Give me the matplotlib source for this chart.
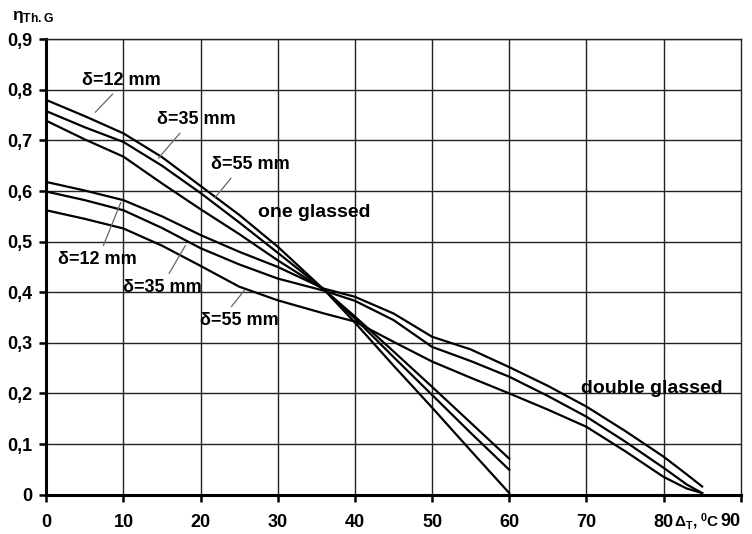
import matplotlib
matplotlib.use("Agg")
import matplotlib.pyplot as plt

plt.rcParams['font.family'] = ['Liberation Sans', 'DejaVu Sans']
plt.rcParams['font.weight'] = 'bold'
plt.rcParams['mathtext.fontset'] = 'custom'
plt.rcParams['mathtext.rm'] = 'Liberation Sans:bold'
plt.rcParams['mathtext.it'] = 'Liberation Sans:bold'
plt.rcParams['mathtext.bf'] = 'Liberation Sans:bold'

# ---------------- DATA ----------------
# one glassed collector
x_one = [0, 5, 10, 15, 20, 25, 30, 36, 40, 45, 50, 55, 60]
one_12 = [0.780, 0.748, 0.714, 0.667, 0.610, 0.553, 0.490, 0.405, 0.340, 0.255, 0.172, 0.087, 0.003]
one_35 = [0.758, 0.726, 0.697, 0.650, 0.596, 0.538, 0.478, 0.405, 0.348, 0.272, 0.197, 0.122, 0.049]
one_55 = [0.739, 0.702, 0.668, 0.615, 0.564, 0.515, 0.463, 0.405, 0.352, 0.283, 0.213, 0.142, 0.071]

# double glassed collector
x_dbl = [0, 5, 10, 15, 20, 25, 30, 36, 40, 45, 50, 55, 60, 65, 70, 75, 80, 83, 85]
dbl_12 = [0.618, 0.601, 0.582, 0.550, 0.513, 0.480, 0.450, 0.407, 0.391, 0.358, 0.312, 0.287, 0.252, 0.215, 0.174, 0.126, 0.075, 0.040, 0.016]
dbl_35 = [0.599, 0.582, 0.562, 0.527, 0.487, 0.455, 0.427, 0.403, 0.383, 0.345, 0.292, 0.264, 0.233, 0.195, 0.154, 0.105, 0.053, 0.020, 0.003]
dbl_55 = [0.562, 0.545, 0.526, 0.492, 0.452, 0.411, 0.384, 0.358, 0.342, 0.302, 0.263, 0.231, 0.200, 0.168, 0.134, 0.086, 0.035, 0.012, 0.003]

x_ticks = [0, 10, 20, 30, 40, 50, 60, 70, 80]
y_ticks = [0, 0.1, 0.2, 0.3, 0.4, 0.5, 0.6, 0.7, 0.8, 0.9]
y_tick_labels = ['0', '0,1', '0,2', '0,3', '0,4', '0,5', '0,6', '0,7', '0,8', '0,9']
# --------------------------------------

fig = plt.figure(figsize=(7.52, 5.34), dpi=100)
ax = fig.add_axes([0.0616, 0.0738, 0.9234, 0.8526])

for ys in (one_12, one_35, one_55):
    ax.plot(x_one, ys, color='black', lw=1.6, solid_joinstyle='round')
for ys in (dbl_12, dbl_35, dbl_55):
    ax.plot(x_dbl, ys, color='black', lw=1.6, solid_joinstyle='round')

ax.set_xlim(0, 90)
ax.set_ylim(0, 0.9)
ax.set_xticks(x_ticks)
ax.set_xticklabels([str(t) for t in x_ticks])
ax.set_yticks(y_ticks)
ax.set_yticklabels(y_tick_labels)
ax.set_xticks([90], minor=True)
ax.tick_params(axis='both', which='both', direction='out', length=5, width=1.8,
               labelsize=13, color='black')
ax.tick_params(axis='x', pad=9)
ax.tick_params(axis='y', pad=5)
ax.grid(True, color='#222222', lw=1.0)
ax.set_axisbelow(True)
ax.spines['left'].set_linewidth(2.2)
ax.spines['bottom'].set_linewidth(2.2)
for s in ('top', 'right'):
    ax.spines[s].set_linewidth(1.0)
    ax.spines[s].set_color('#222222')

# axis titles
fig.text(0.016, 0.962, r'$\eta_{Th.G}$', fontsize=12.5)
ax.text(90, -0.054, '90', ha='right', va='center', fontsize=13)
ax.text(87.3, -0.054, r'Δ$_\mathregular{T}$, $^\mathregular{0}$C', ha='right', va='center', fontsize=11)

# curve labels with leader lines
lead = dict(arrowstyle='-', color='#666666', lw=0.9)
ax.annotate('δ=12 mm', xy=(6.1, 0.752), xytext=(4.6, 0.818), fontsize=13, ha='left', va='center',
            arrowprops=dict(lead, relpos=(0.45, 0.0)))
ax.annotate('δ=35 mm', xy=(14.3, 0.661), xytext=(14.3, 0.741), fontsize=13, ha='left', va='center',
            arrowprops=dict(lead, relpos=(0.35, 0.0)))
ax.annotate('δ=55 mm', xy=(21.6, 0.582), xytext=(21.4, 0.652), fontsize=13, ha='left', va='center',
            arrowprops=dict(lead, relpos=(0.3, 0.0)))
ax.text(27.4, 0.558, 'one glassed', fontsize=14, ha='left', va='center')

ax.annotate('δ=12 mm', xy=(9.8, 0.583), xytext=(1.5, 0.465), fontsize=13, ha='left', va='center',
            arrowprops=dict(lead, relpos=(0.55, 1.0)))
ax.annotate('δ=35 mm', xy=(18.2, 0.497), xytext=(9.9, 0.410), fontsize=13, ha='left', va='center',
            arrowprops=dict(lead, relpos=(0.55, 1.0)))
ax.annotate('δ=55 mm', xy=(25.9, 0.408), xytext=(19.9, 0.345), fontsize=13, ha='left', va='center',
            arrowprops=dict(lead, relpos=(0.35, 1.0)))
ax.text(69.3, 0.210, 'double glassed', fontsize=14, ha='left', va='center')

fig.savefig('out.png', dpi=100)
